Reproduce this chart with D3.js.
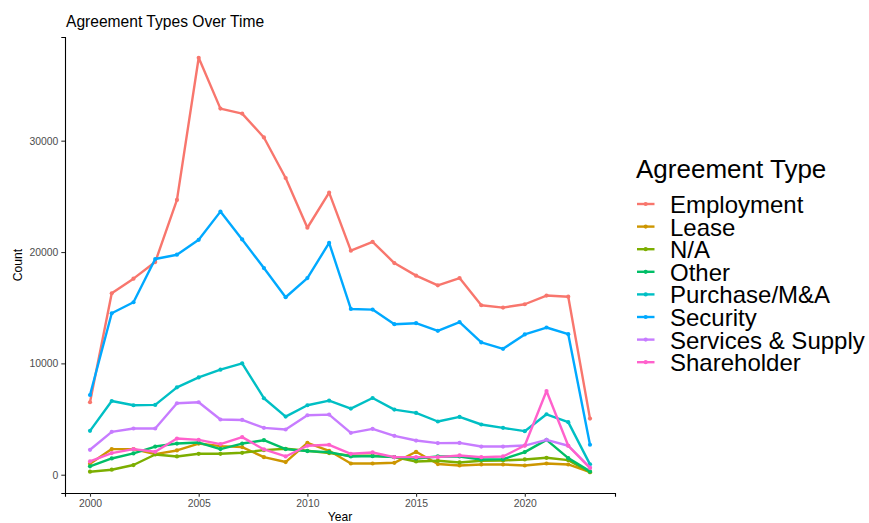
<!DOCTYPE html>
<html>
<head>
<meta charset="utf-8">
<script src="https://cdn.jsdelivr.net/npm/d3@7"></script>
<style>
  body { margin: 0; background: #fff; }
  text { font-family: "Liberation Sans", Arial, sans-serif; }
</style>
</head>
<body>
<div id="chart"></div>
<script>
var width = 869
var height = 523
var margin = { top: 37, bottom: 30, left: 65, right: 254 };

var years = d3.range(2000, 2024);
var types = ["Employment", "Lease", "N/A", "Other", "Purchase/M&A", "Security", "Services & Supply", "Shareholder"];
var colors = ["#F8766D", "#CD9600", "#7CAE00", "#00BE67", "#00BFC4", "#00A9FF", "#C77CFF", "#FF61CC"];
var xTicks = [2000, 2005, 2010, 2015, 2020];
var yTicks = [0, 10000, 20000, 30000];

var employment = [6510, 16300, 17610, 19100, 24680, 37450, 32880, 32430, 30290, 26650, 22180, 25330,
    20120, 20920, 19010, 17880, 17010, 17660, 15220, 15010, 15310, 16090, 15990, 5040];
var lease = [980, 2300, 2300, 1850, 2180, 2800, 2570, 2480, 1580, 1140, 2860, 2150,
    1010, 1010, 1070, 2060, 960, 830, 920, 920, 830, 1010, 920, 240];
var na = [270, 450, 870, 1820, 1640, 1880, 1880, 1970, 2210, 2330, 2150, 1940,
    1700, 1700, 1580, 1190, 1250, 1100, 1250, 1280, 1370, 1520, 1310, 220];
var other = [750, 1460, 1910, 2530, 2800, 2890, 2300, 2800, 3100, 2300, 2120, 2030,
    1640, 1670, 1580, 1460, 1640, 1640, 1370, 1400, 2030, 3130, 1490, 300];
var purchase = [3940, 6620, 6240, 6270, 7850, 8740, 9430, 10000, 6870, 5220, 6240, 6650,
    5940, 6890, 5850, 5550, 4780, 5190, 4510, 4210, 3910, 5430, 4720, 930];
var security = [7160, 14500, 15490, 19370, 19760, 21100, 23630, 21130, 18560, 15940, 17660, 20820,
    14890, 14830, 13520, 13610, 12920, 13700, 11880, 11310, 12600, 13220, 12620, 2690];
var services = [2240, 3850, 4150, 4150, 6420, 6510, 4960, 4920, 4210, 4060, 5340, 5400,
    3760, 4120, 3490, 3070, 2840, 2860, 2530, 2530, 2620, 3130, 2600, 650];
var shareholder = [1190, 1940, 2300, 2060, 3250, 3130, 2750, 3380, 2270, 1640, 2600, 2690,
    1880, 2000, 1580, 1580, 1580, 1730, 1580, 1640, 2620, 7520, 2600, 600];

var seriesValues = [employment, lease, na, other, purchase, security, services, shareholder];

var series = types.map(function(t, i) {
    return { name: t, color: colors[i], values: seriesValues[i].map(function(v, j) { return { year: years[j], n: v }; }) };
});

var svg = d3.select("#chart").append("svg")
    .attr("width", width)
    .attr("height", height);

// ggplot style 5% expansion
var yExt = d3.extent(d3.merge(seriesValues));
var yPad = (yExt[1] - yExt[0]) * 0.05;
var xPad = (years[years.length - 1] - years[0]) * 0.05;

var x = d3.scaleLinear()
    .domain([years[0] - xPad, years[years.length - 1] + xPad])
    .range([margin.left, width - margin.right]);
var y = d3.scaleLinear()
    .domain([yExt[0] - yPad, yExt[1] + yPad])
    .range([height - margin.bottom, margin.top]);

var xAxis = svg.append("g")
    .attr("transform", "translate(0," + (height - margin.bottom) + ")")
    .call(d3.axisBottom(x).tickValues(xTicks).tickFormat(d3.format("d")).tickSizeOuter(0).tickSize(3.7).tickPadding(3));
var yAxis = svg.append("g")
    .attr("transform", "translate(" + margin.left + ",0)")
    .call(d3.axisLeft(y).tickValues(yTicks).tickFormat(d3.format("d")).tickSizeOuter(0).tickSize(3.7).tickPadding(3));

[xAxis, yAxis].forEach(function(a) {
    a.select(".domain").attr("stroke", "#000").attr("stroke-width", 1.1);
    a.selectAll(".tick line").attr("stroke", "#333").attr("stroke-width", 1.1);
    a.selectAll(".tick text").attr("fill", "#4D4D4D").style("font-size", "10.4px")
        .style("font-family", "Liberation Sans, Arial, sans-serif");
});

var line = d3.line()
    .x(function(d) { return x(d.year); })
    .y(function(d) { return y(d.n); });

var groups = svg.selectAll(".series")
    .data(series)
    .enter().append("g")
    .attr("class", "series");

groups.append("path")
    .attr("d", function(d) { return line(d.values); })
    .attr("fill", "none")
    .attr("stroke", function(d) { return d.color; })
    .attr("stroke-width", 2.4)
    .attr("stroke-linejoin", "round");

groups.selectAll("circle")
    .data(function(d) { return d.values.map(function(v) { return { year: v.year, n: v.n, color: d.color }; }); })
    .enter().append("circle")
    .attr("cx", function(d) { return x(d.year); })
    .attr("cy", function(d) { return y(d.n); })
    .attr("r", 2.1)
    .attr("fill", function(d) { return d.color; });

// titles
svg.append("text")
    .attr("x", 66)
    .attr("y", 26.5)
    .style("font-size", "15.6px")
    .attr("fill", "#000")
    .text("Agreement Types Over Time");

svg.append("text")
    .attr("x", (margin.left + width - margin.right) / 2)
    .attr("y", 521)
    .attr("text-anchor", "middle")
    .style("font-size", "12.1px")
    .text("Year");

svg.append("text")
    .attr("transform", "translate(21.5," + ((margin.top + height - margin.bottom) / 2) + ") rotate(-90)")
    .attr("text-anchor", "middle")
    .style("font-size", "12.1px")
    .text("Count");

// legend
var legend = svg.append("g").attr("transform", "translate(636,0)");
legend.append("text")
    .attr("x", 0)
    .attr("y", 177.5)
    .style("font-size", "26px")
    .text("Agreement Type");

var items = legend.selectAll(".item")
    .data(series)
    .enter().append("g")
    .attr("class", "item")
    .attr("transform", function(d, i) { return "translate(0," + (204 + i * 22.6) + ")"; });

items.append("line")
    .attr("x1", 1).attr("x2", 18.5)
    .attr("stroke", function(d) { return d.color; })
    .attr("stroke-width", 2.4);
items.append("circle")
    .attr("cx", 9.7).attr("r", 2.1)
    .attr("fill", function(d) { return d.color; });
items.append("text")
    .attr("x", 34)
    .attr("y", 9)
    .style("font-size", "24px")
    .text(function(d) { return d.name; });
</script>
</body>
</html>
